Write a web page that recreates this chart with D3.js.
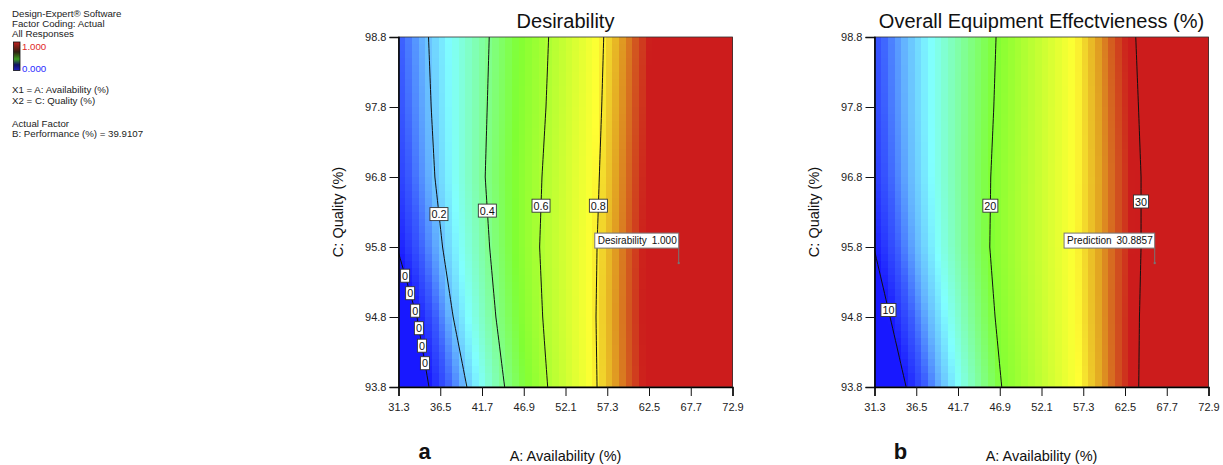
<!DOCTYPE html>
<html>
<head>
<meta charset="utf-8">
<script src="https://cdn.jsdelivr.net/npm/d3@7"></script>
<style>
body { margin: 0; background: #fff; }
svg text { font-family: Arial, "Liberation Sans", sans-serif; }
</style>
</head>
<body>
<script>
// tick values
const xTicks = [31.3, 36.5, 41.7, 46.9, 52.1, 57.3, 62.5, 67.7, 72.9];
const yTicks = [93.8, 94.8, 95.8, 96.8, 97.8, 98.8];

// rows of C where contour crossings were read
const rowsC = [98.8, 97.8, 96.8, 95.8, 94.8, 93.8];

// desirability: A value where each level is crossed, one entry per row
const desLevels = [0, 0.2, 0.4, 0.6, 0.8, 1.0];
const desCross = [
    [28.0, 28.6, 29.6, 31.1, 33.6, 35.1],
    [35.04, 35.37, 35.83, 36.79, 38.11, 39.82],
    [42.60, 42.35, 42.10, 42.65, 43.43, 44.52],
    [50.00, 49.67, 49.17, 48.88, 49.26, 49.88],
    [56.86, 56.61, 56.31, 56.03, 55.90, 56.03],
    [63.6, 63.4, 63.1, 62.9, 62.8, 62.9]
];
const desLines = [0, 0.2, 0.4, 0.6, 0.8];
const desLabelC = [96.27, 96.32, 96.39, 96.39];         // for 0.2 .. 0.8
const desZeroLabelC = [95.39, 95.14, 94.89, 94.64, 94.39, 94.14];

// overall equipment effectiveness
const oeeLevels = [10, 20, 30];
const oeeCross = [
    [28.6, 29.0, 29.8, 31.2, 33.24, 35.24],
    [46.44, 46.16, 45.78, 45.66, 46.32, 47.15],
    [63.84, 64.18, 64.50, 64.50, 64.30, 64.21]
];
const oeeLabelC = [94.9, 96.39, 96.45];
const oeeRange = [10, 30];

// flagged point
const optA = 66.2, optC = 95.57;
const desFlag = ["Desirability", "1.000"];
const oeeFlag = ["Prediction", "30.8857"];

const svg = d3.select("body").append("svg")
    .attr("width", 1223)
    .attr("height", 465);

// colour map (0 = blue, 1 = red)
const colorT = d3.scaleLinear()
    .domain([0, 0.1, 0.18, 0.27, 0.5, 0.78, 0.86, 0.92, 0.97])
    .range(["#1818ff", "#3a5cff", "#64b4ff", "#80ffff", "#80ff33", "#ffff33", "#e2a522", "#d2541f", "#cc1c1c"])
    .clamp(true);

const plotTop = 37, ph = 350, pw = 334;

function crossAt(cross, c) {
    return d3.scaleLinear().domain(rowsC).range(cross)(c);
}

function drawPanel(x0, title, levels, cross, toT, lineLevels, labels, flag, letter) {
    const x = d3.scaleLinear().domain([31.3, 72.9]).range([x0, x0 + pw]);
    const y = d3.scaleLinear().domain([93.8, 98.8]).range([plotTop + ph, plotTop]);
    const g = svg.append("g");
    const clipId = "clip" + Math.round(x0);
    svg.append("clipPath").attr("id", clipId)
        .append("rect").attr("x", x0).attr("y", plotTop).attr("width", pw).attr("height", ph);

    // heat map cells
    const n = 50, cw = pw / n, ch = ph / n;
    const cells = [];
    for (let j = 0; j < n; j++) {
        const c = y.invert(plotTop + (j + 0.5) * ch);
        const xs = cross.map(cr => crossAt(cr, c));
        const val = d3.scaleLinear().domain(xs).range(levels);
        for (let i = 0; i < n; i++) {
            const a = x.invert(x0 + (i + 0.5) * cw);
            cells.push({i: i, j: j, t: toT(val(a))});
        }
    }
    g.append("g").selectAll("rect").data(cells).enter().append("rect")
        .attr("x", d => x0 + d.i * cw)
        .attr("y", d => plotTop + d.j * ch)
        .attr("width", cw + 0.6)
        .attr("height", ch + 0.6)
        .attr("fill", d => colorT(d.t))
        .attr("shape-rendering", "crispEdges");

    // contour lines
    const cs = d3.range(0, 61).map(k => 93.8 + k * 5 / 60);
    const line = d3.line().x(d => d[0]).y(d => d[1]);
    lineLevels.forEach(function (lv) {
        const cr = cross[levels.indexOf(lv)];
        g.append("path")
            .attr("clip-path", "url(#" + clipId + ")")
            .attr("d", line(cs.map(c => [x(crossAt(cr, c)), y(c)])))
            .attr("fill", "none")
            .attr("stroke", "#111")
            .attr("stroke-width", 1);
    });

    // frame
    g.append("rect").attr("x", x0).attr("y", plotTop).attr("width", pw).attr("height", ph)
        .attr("fill", "none").attr("stroke", "#333").attr("stroke-width", 0.8);

    // contour labels
    labels.forEach(function (lb) {
        const cr = cross[levels.indexOf(lb.level)];
        const cx = x(crossAt(cr, lb.c)), cy = y(lb.c);
        const lg = g.append("g");
        const t = lg.append("text").attr("x", cx).attr("y", cy + 4)
            .attr("text-anchor", "middle").style("font-size", "10.8px").attr("fill", "#111")
            .text(lb.text);
        const w = t.node().getComputedTextLength() + 3;
        lg.insert("rect", "text")
            .attr("x", cx - w / 2).attr("y", cy - 6.5).attr("width", w).attr("height", 13)
            .attr("fill", "#fff").attr("stroke", "#333").attr("stroke-width", 0.9);
    });

    // flag
    const fx = x(optA), fy = y(optC);
    const fg = g.append("g");
    const t1 = fg.append("text").attr("y", fy - 19).style("font-size", "10px").attr("fill", "#111").text(flag[0]);
    const t2 = fg.append("text").attr("y", fy - 19).style("font-size", "10px").attr("fill", "#111")
        .attr("text-anchor", "end").attr("x", fx - 2).text(flag[1]);
    const fw = t1.node().getComputedTextLength() + t2.node().getComputedTextLength() + 10;
    t1.attr("x", fx - fw + 3);
    fg.insert("rect", "text").attr("x", fx - fw).attr("y", fy - 30).attr("width", fw).attr("height", 15)
        .attr("fill", "#fff").attr("stroke", "#777").attr("stroke-width", 1);
    fg.append("line").attr("x1", fx).attr("x2", fx).attr("y1", fy - 15).attr("y2", fy)
        .attr("stroke", "#777").attr("stroke-width", 1);
    fg.append("rect").attr("x", fx - 1).attr("y", fy - 1).attr("width", 2).attr("height", 2).attr("fill", "#777");

    // axes
    const ax = g.append("g").attr("transform", "translate(0," + (plotTop + ph) + ")")
        .call(d3.axisBottom(x).tickValues(xTicks).tickSize(9).tickPadding(7).tickFormat(d3.format(".1f")));
    const ay = g.append("g").attr("transform", "translate(" + x0 + ",0)")
        .call(d3.axisLeft(y).tickValues(yTicks).tickSize(9).tickPadding(3).tickFormat(d3.format(".1f")));
    [ax, ay].forEach(function (a) {
        a.selectAll("text").style("font-size", "11px").attr("fill", "#222")
            .style("font-family", "Arial, 'Liberation Sans', sans-serif");
        a.selectAll("line").attr("stroke", "#111");
        a.select(".domain").attr("stroke", "#000").attr("stroke-width", 1.5);
    });

    // titles
    g.append("text").attr("x", x0 + pw / 2).attr("y", 28).attr("text-anchor", "middle")
        .style("font-size", "20px").attr("fill", "#111").text(title);
    g.append("text").attr("x", x0 + pw / 2).attr("y", 461).attr("text-anchor", "middle")
        .style("font-size", "14.5px").attr("fill", "#111").text("A: Availability (%)");
    g.append("text").attr("transform", "translate(" + (x0 - 56) + "," + (plotTop + ph / 2) + ") rotate(-90)")
        .attr("text-anchor", "middle").style("font-size", "14.5px").attr("fill", "#111").text("C: Quality (%)");
    g.append("text").attr("x", x0 + 26).attr("y", 459).attr("text-anchor", "middle")
        .style("font-size", "22px").style("font-weight", "bold").attr("fill", "#111").text(letter);
}

const desLabelList = desLabelC.map((c, k) => ({level: desLines[k + 1], c: c, text: String(desLines[k + 1])}))
    .concat(desZeroLabelC.map(c => ({level: 0, c: c, text: "0"})));
drawPanel(398.5, "Desirability", desLevels, desCross, v => v,
    desLines, desLabelList, desFlag, "a");

const oeeLabelList = oeeLevels.map((lv, k) => ({level: lv, c: oeeLabelC[k], text: String(lv)}));
drawPanel(874.5, "Overall Equipment Effectvieness (%)", oeeLevels, oeeCross,
    v => (v - oeeRange[0]) / (oeeRange[1] - oeeRange[0]),
    oeeLevels, oeeLabelList, oeeFlag, "b");

// info block on the left
const info = svg.append("g").style("font-size", "9.7px").attr("fill", "#222");
[["Design-Expert\u00ae Software", 17], ["Factor Coding: Actual", 27.3], ["All Responses", 37.3],
 ["X1 = A: Availability (%)", 93.3], ["X2 = C: Quality (%)", 104.3],
 ["Actual Factor", 126.7], ["B: Performance (%) = 39.9107", 137.3]].forEach(function (d) {
    info.append("text").attr("x", 12).attr("y", d[1]).text(d[0]);
});
const grad = svg.append("defs").append("linearGradient").attr("id", "legGrad")
    .attr("x1", 0).attr("x2", 0).attr("y1", 0).attr("y2", 1);
[["0%", "#c02020"], ["35%", "#302010"], ["60%", "#3a9a20"], ["80%", "#101060"], ["100%", "#2020c0"]]
    .forEach(s => grad.append("stop").attr("offset", s[0]).attr("stop-color", s[1]));
svg.append("rect").attr("x", 13.5).attr("y", 42).attr("width", 6.5).attr("height", 28.5)
    .attr("fill", "url(#legGrad)").attr("stroke", "#111").attr("stroke-width", 0.8);
svg.append("text").attr("x", 22).attr("y", 49.5).style("font-size", "9.7px").attr("fill", "#e02828").text("1.000");
svg.append("text").attr("x", 22).attr("y", 71.5).style("font-size", "9.7px").attr("fill", "#2a2aff").text("0.000");
</script>
</body>
</html>
